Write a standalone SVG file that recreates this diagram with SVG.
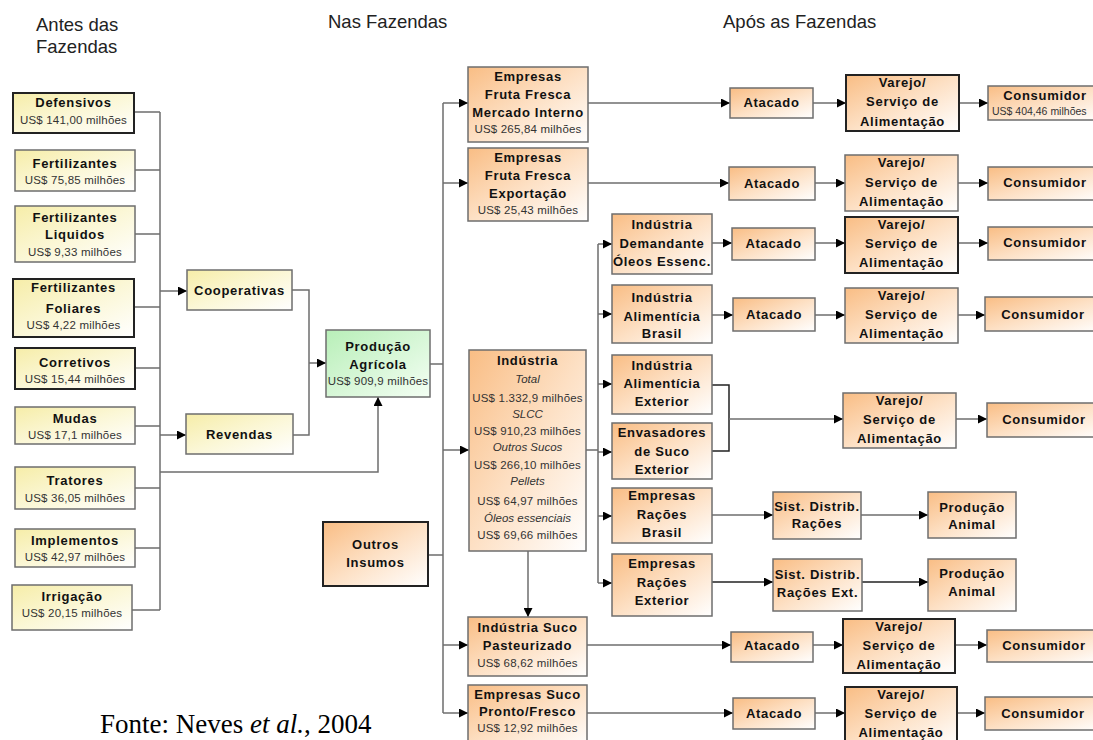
<svg xmlns="http://www.w3.org/2000/svg" width="1093" height="740" viewBox="0 0 1093 740">
<style>
.y{fill:url(#gy);stroke:#6e6e6e;stroke-width:1.5}
.o{fill:url(#go);stroke:#6e6e6e;stroke-width:1.5}
.g{fill:url(#gg);stroke:#6e6e6e;stroke-width:1.5}
.k{stroke:#222;stroke-width:2}
text{font-family:"Liberation Sans",Arial,sans-serif;text-anchor:middle;fill:#111}
.t{font-size:13px;font-weight:bold;letter-spacing:0.7px}
.v{font-size:11.5px;letter-spacing:0.2px;fill:#333}
.i{font-size:11.5px;font-style:italic;fill:#333}
.h{font-size:18.5px;text-anchor:start;fill:#222}
.f{font-family:"Liberation Serif","Times New Roman",serif;font-size:27px;text-anchor:start;fill:#000}
.c{fill:none;stroke:#6e6e6e;stroke-width:1.5}
.a{marker-end:url(#ar)}
</style>
<defs>
<linearGradient id="go" x1="0" y1="0" x2="1" y2="1"><stop offset="0" stop-color="#f9bd84"/><stop offset="0.5" stop-color="#fde0c4"/><stop offset="1" stop-color="#ffffff"/></linearGradient>
<linearGradient id="gy" x1="0" y1="0" x2="1" y2="1"><stop offset="0" stop-color="#f6eda8"/><stop offset="0.5" stop-color="#fbf7d6"/><stop offset="1" stop-color="#ffffff"/></linearGradient>
<linearGradient id="gg" x1="0" y1="0" x2="1" y2="1"><stop offset="0" stop-color="#b8efb8"/><stop offset="0.6" stop-color="#dcf8dc"/><stop offset="1" stop-color="#f4fff4"/></linearGradient>
<marker id="ar" viewBox="0 0 10 10" refX="10" refY="5" markerWidth="9" markerHeight="9" markerUnits="userSpaceOnUse" orient="auto"><path d="M0,0 L10,5 L0,10 Z" fill="#000"/></marker>
</defs>
<rect width="1093" height="740" fill="#fff"/>

<g id="headers">
<text class="h" x="36" y="31">Antes das</text>
<text class="h" x="36" y="53">Fazendas</text>
<text class="h" x="328" y="28">Nas Fazendas</text>
<text class="h" x="723" y="28">Após as Fazendas</text>
</g>

<g id="connectors">
<path class="c" d="M134,112H160M135,170H160M135,234H160M134,307H160M135,368H160M135,426H160M135,488H160M135,548H160M132,610H160M160,112V610"/>
<path class="c a" d="M160,291H187"/>
<path class="c a" d="M160,435H186"/>
<path class="c a" d="M160,472H378V397"/>
<path class="c" d="M292,290H309V435H293"/>
<path class="c a" d="M309,363H326"/>
<path class="c" d="M430,364H443M443,103V713M428,555H443"/>
<path class="c a" d="M443,103H468"/>
<path class="c a" d="M443,183H468"/>
<path class="c a" d="M443,450H469"/>
<path class="c a" d="M443,645H468"/>
<path class="c a" d="M443,713H468"/>
<path class="c a" d="M528,551V617"/>
<path class="c" d="M586,450H598M598,244V583"/>
<path class="c a" d="M598,244H612"/>
<path class="c a" d="M598,314H612"/>
<path class="c a" d="M598,384H612"/>
<path class="c a" d="M598,452H612"/>
<path class="c a" d="M598,516H612"/>
<path class="c a" d="M598,583H612"/>
<path class="c a" d="M588,103H730"/>
<path class="c a" d="M813,103H846"/>
<path class="c a" d="M959,103H988"/>
<path class="c a" d="M588,183H729"/>
<path class="c a" d="M815,183H845"/>
<path class="c a" d="M958,183H988"/>
<path class="c a" d="M712,243H732"/>
<path class="c a" d="M815,243H845"/>
<path class="c a" d="M958,243H988"/>
<path class="c a" d="M712,315H733"/>
<path class="c a" d="M815,315H845"/>
<path class="c a" d="M958,315H985"/>
<path class="c" d="M712,385H729V451H712" style="stroke:#222"/>
<path class="c a" d="M729,419H843"/>
<path class="c a" d="M956,419H987"/>
<path class="c a" d="M712,515H773"/>
<path class="c a" d="M861,515H928"/>
<path class="c a" d="M712,582H773" style="stroke:#222"/>
<path class="c a" d="M862,582H928" style="stroke:#222"/>
<path class="c a" d="M587,645H731"/>
<path class="c a" d="M813,645H843"/>
<path class="c a" d="M955,645H987"/>
<path class="c a" d="M587,713H733"/>
<path class="c a" d="M815,713H845"/>
<path class="c a" d="M957,713H985"/>
</g>

<g id="defensivos"><rect class="y k" x="13" y="93" width="121" height="40"/><text class="t" x="73.5" y="107">Defensivos</text><text class="v" x="73.5" y="124">US$ 141,00 milhões</text></g>
<g id="fertilizantes"><rect class="y" x="15" y="150" width="120" height="41"/><text class="t" x="75" y="168">Fertilizantes</text><text class="v" x="75" y="184">US$ 75,85 milhões</text></g>
<g id="fertilizantes-liquidos"><rect class="y" x="15" y="206" width="120" height="56"/><text class="t" x="75" y="222">Fertilizantes</text><text class="t" x="75" y="239">Liquidos</text><text class="v" x="75" y="256">US$ 9,33 milhões</text></g>
<g id="fertilizantes-foliares"><rect class="y k" x="13" y="279" width="121" height="58"/><text class="t" x="73.5" y="292">Fertilizantes</text><text class="t" x="73.5" y="313">Foliares</text><text class="v" x="73.5" y="329">US$ 4,22 milhões</text></g>
<g id="corretivos"><rect class="y k" x="15" y="348" width="120" height="41"/><text class="t" x="75" y="367">Corretivos</text><text class="v" x="75" y="383">US$ 15,44 milhões</text></g>
<g id="mudas"><rect class="y" x="15" y="407" width="120" height="37"/><text class="t" x="75" y="423">Mudas</text><text class="v" x="75" y="439">US$ 17,1 milhões</text></g>
<g id="tratores"><rect class="y" x="15" y="467" width="120" height="42"/><text class="t" x="75" y="485">Tratores</text><text class="v" x="75" y="502">US$ 36,05 milhões</text></g>
<g id="implementos"><rect class="y" x="15" y="529" width="120" height="38"/><text class="t" x="75" y="545">Implementos</text><text class="v" x="75" y="561">US$ 42,97 milhões</text></g>
<g id="irrigacao"><rect class="y" x="12" y="585" width="120" height="45"/><text class="t" x="72" y="601">Irrigação</text><text class="v" x="72" y="617">US$ 20,15 milhões</text></g>

<g id="cooperativas"><rect class="y" x="187" y="270" width="105" height="40"/><text class="t" x="239.5" y="295">Cooperativas</text></g>
<g id="revendas"><rect class="y" x="186" y="414" width="107" height="40"/><text class="t" x="239.5" y="439">Revendas</text></g>
<g id="producao-agricola"><rect class="g" x="326" y="330" width="104" height="67"/><text class="t" x="378" y="351">Produção</text><text class="t" x="378" y="369">Agrícola</text><text class="v" x="378" y="385">US$ 909,9 milhões</text></g>
<g id="outros-insumos"><rect class="o k" x="323" y="522" width="105" height="64"/><text class="t" x="375.5" y="549">Outros</text><text class="t" x="375.5" y="567">Insumos</text></g>

<g id="fruta-mercado-interno"><rect class="o" x="468" y="67" width="120" height="75"/><text class="t" x="528" y="81">Empresas</text><text class="t" x="528" y="99">Fruta Fresca</text><text class="t" x="528" y="117">Mercado Interno</text><text class="v" x="528" y="133">US$ 265,84 milhões</text></g>
<g id="fruta-exportacao"><rect class="o" x="468" y="148" width="120" height="73"/><text class="t" x="528" y="162">Empresas</text><text class="t" x="528" y="180">Fruta Fresca</text><text class="t" x="528" y="198">Exportação</text><text class="v" x="528" y="214">US$ 25,43 milhões</text></g>
<g id="industria-total"><rect class="o" x="469" y="350" width="117" height="201"/><text class="t" x="527.5" y="365">Indústria</text><text class="i" x="527.5" y="383">Total</text><text class="v" x="527.5" y="402">US$ 1.332,9 milhões</text><text class="i" x="527.5" y="418">SLCC</text><text class="v" x="527.5" y="435">US$ 910,23 milhões</text><text class="i" x="527.5" y="451">Outros Sucos</text><text class="v" x="527.5" y="469">US$ 266,10 milhões</text><text class="i" x="527.5" y="485">Pellets</text><text class="v" x="527.5" y="505">US$ 64,97 milhões</text><text class="i" x="527.5" y="522">Óleos essenciais</text><text class="v" x="527.5" y="539">US$ 69,66 milhões</text></g>
<g id="suco-pasteurizado"><rect class="o" x="468" y="617" width="119" height="59"/><text class="t" x="527.5" y="632">Indústria Suco</text><text class="t" x="527.5" y="650">Pasteurizado</text><text class="v" x="527.5" y="667">US$ 68,62  milhões</text></g>
<g id="suco-pronto-fresco"><rect class="o" x="468" y="685" width="119" height="62"/><text class="t" x="527.5" y="699">Empresas Suco</text><text class="t" x="527.5" y="716">Pronto/Fresco</text><text class="v" x="527.5" y="732">US$ 12,92 milhões</text></g>

<g id="industria-oleos"><rect class="o" x="612" y="214" width="100" height="60"/><text class="t" x="662" y="229">Indústria</text><text class="t" x="662" y="248">Demandante</text><text class="t" x="662" y="266">Óleos Essenc.</text></g>
<g id="alimenticia-brasil"><rect class="o" x="612" y="285" width="100" height="58"/><text class="t" x="662" y="302">Indústria</text><text class="t" x="662" y="321">Alimentícia</text><text class="t" x="662" y="338">Brasil</text></g>
<g id="alimenticia-exterior"><rect class="o" x="612" y="355" width="100" height="59"/><text class="t" x="662" y="370">Indústria</text><text class="t" x="662" y="388">Alimentícia</text><text class="t" x="662" y="406">Exterior</text></g>
<g id="envasadores"><rect class="o" x="612" y="423" width="100" height="56"/><text class="t" x="662" y="437">Envasadores</text><text class="t" x="662" y="456">de Suco</text><text class="t" x="662" y="474">Exterior</text></g>
<g id="racoes-brasil"><rect class="o" x="612" y="488" width="100" height="55"/><text class="t" x="662" y="500">Empresas</text><text class="t" x="662" y="519">Rações</text><text class="t" x="662" y="537">Brasil</text></g>
<g id="racoes-exterior"><rect class="o" x="612" y="554" width="100" height="62"/><text class="t" x="662" y="568">Empresas</text><text class="t" x="662" y="587">Rações</text><text class="t" x="662" y="605">Exterior</text></g>

<g id="atacado-1"><rect class="o" x="730" y="88" width="83" height="30"/><text class="t" x="771.5" y="107">Atacado</text></g>
<g id="varejo-1"><rect class="o k" x="846" y="75" width="113" height="56"/><text class="t" x="902.5" y="87">Varejo/</text><text class="t" x="902.5" y="106">Serviço de</text><text class="t" x="902.5" y="126">Alimentação</text></g>
<g id="consumidor-1"><rect class="o" x="988" y="86" width="115" height="34"/><text class="t" x="1045" y="100">Consumidor</text><text class="v" x="992" y="115" style="text-anchor:start;letter-spacing:0;font-size:10.5px">US$ 404,46 milhões</text></g>

<g id="atacado-2"><rect class="o" x="729" y="167" width="86" height="33"/><text class="t" x="772" y="188">Atacado</text></g>
<g id="varejo-2"><rect class="o" x="845" y="155" width="113" height="56"/><text class="t" x="901.5" y="167">Varejo/</text><text class="t" x="901.5" y="187">Serviço de</text><text class="t" x="901.5" y="206">Alimentação</text></g>
<g id="consumidor-2"><rect class="o" x="988" y="167" width="115" height="33"/><text class="t" x="1045" y="187">Consumidor</text></g>

<g id="atacado-3"><rect class="o" x="732" y="228" width="83" height="32"/><text class="t" x="773.5" y="248">Atacado</text></g>
<g id="varejo-3"><rect class="o k" x="845" y="217" width="113" height="56"/><text class="t" x="901.5" y="229">Varejo/</text><text class="t" x="901.5" y="248">Serviço de</text><text class="t" x="901.5" y="267">Alimentação</text></g>
<g id="consumidor-3"><rect class="o" x="988" y="227" width="115" height="33"/><text class="t" x="1045" y="247">Consumidor</text></g>

<g id="atacado-4"><rect class="o" x="733" y="298" width="82" height="33"/><text class="t" x="774" y="319">Atacado</text></g>
<g id="varejo-4"><rect class="o" x="845" y="288" width="113" height="55"/><text class="t" x="901.5" y="300">Varejo/</text><text class="t" x="901.5" y="319">Serviço de</text><text class="t" x="901.5" y="338">Alimentação</text></g>
<g id="consumidor-4"><rect class="o" x="985" y="297" width="118" height="34"/><text class="t" x="1043" y="319">Consumidor</text></g>

<g id="varejo-5"><rect class="o" x="843" y="393" width="113" height="55"/><text class="t" x="899.5" y="405">Varejo/</text><text class="t" x="899.5" y="424">Serviço de</text><text class="t" x="899.5" y="443">Alimentação</text></g>
<g id="consumidor-5"><rect class="o" x="987" y="403" width="116" height="34"/><text class="t" x="1044" y="424">Consumidor</text></g>

<g id="sist-distrib-racoes"><rect class="o" x="773" y="492" width="88" height="47"/><text class="t" x="817" y="511">Sist. Distrib.</text><text class="t" x="817" y="528">Rações</text></g>
<g id="producao-animal-1"><rect class="o" x="928" y="492" width="88" height="46"/><text class="t" x="972" y="512">Produção</text><text class="t" x="972" y="529">Animal</text></g>
<g id="sist-distrib-racoes-ext"><rect class="o" x="773" y="559" width="89" height="52"/><text class="t" x="817.5" y="579">Sist. Distrib.</text><text class="t" x="817.5" y="597">Rações Ext.</text></g>
<g id="producao-animal-2"><rect class="o" x="928" y="559" width="88" height="52"/><text class="t" x="972" y="578">Produção</text><text class="t" x="972" y="596">Animal</text></g>

<g id="atacado-6"><rect class="o" x="731" y="632" width="82" height="30"/><text class="t" x="772" y="650">Atacado</text></g>
<g id="varejo-6"><rect class="o k" x="843" y="619" width="112" height="54"/><text class="t" x="899" y="631">Varejo/</text><text class="t" x="899" y="650">Serviço de</text><text class="t" x="899" y="669">Alimentação</text></g>
<g id="consumidor-6"><rect class="o" x="987" y="630" width="116" height="32"/><text class="t" x="1044" y="650">Consumidor</text></g>

<g id="atacado-7"><rect class="o" x="733" y="698" width="82" height="31"/><text class="t" x="774" y="718">Atacado</text></g>
<g id="varejo-7"><rect class="o k" x="845" y="687" width="112" height="60"/><text class="t" x="901" y="699">Varejo/</text><text class="t" x="901" y="718">Serviço de</text><text class="t" x="901" y="737">Alimentação</text></g>
<g id="consumidor-7"><rect class="o" x="985" y="697" width="118" height="33"/><text class="t" x="1043" y="718">Consumidor</text></g>

<g id="fonte"><text class="f" x="100" y="733">Fonte: Neves <tspan font-style="italic">et al.</tspan>, 2004</text></g>
</svg>
